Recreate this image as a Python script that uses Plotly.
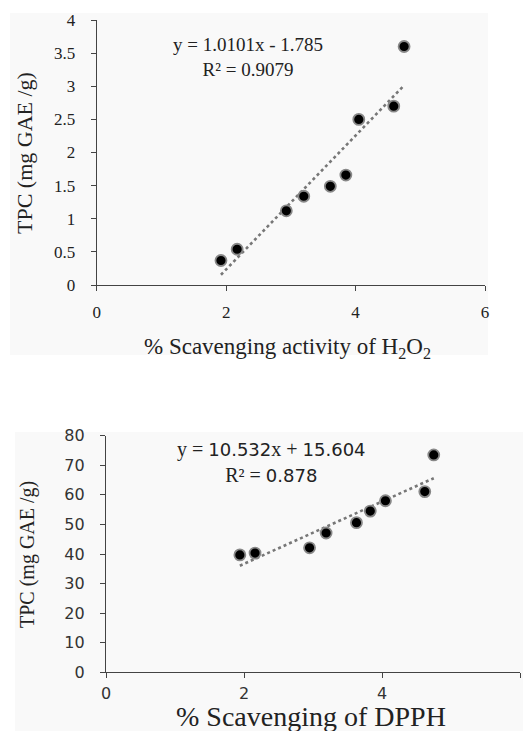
import plotly.graph_objects as go

W, H = 523, 731

# Top chart data: H2O2
h2o2_x = [1.92, 2.17, 2.93, 3.20, 3.61, 3.85, 4.05, 4.59, 4.75]
h2o2_y = [0.37, 0.54, 1.12, 1.34, 1.49, 1.66, 2.50, 2.70, 3.60]
h2o2_slope, h2o2_icpt = 1.0101, -1.785

# Bottom chart data: DPPH
dpph_x = [1.94, 2.16, 2.95, 3.19, 3.63, 3.83, 4.05, 4.62, 4.75]
dpph_y = [39.7, 40.3, 42.1, 47.1, 50.6, 54.5, 58.0, 61.1, 73.5]
dpph_slope, dpph_icpt = 10.532, 15.604

x_ticks = [0, 2, 4, 6]
top_y_ticks = [0, 0.5, 1, 1.5, 2, 2.5, 3, 3.5, 4]
top_y_labels = ["0", "0.5", "1", "1.5", "2", "2.5", "3", "3.5", "4"]
bot_y_ticks = [0, 10, 20, 30, 40, 50, 60, 70, 80]


def px(x):
    return x / W


def py(y):
    return 1 - y / H


fig = go.Figure()

marker = dict(color="black", size=11, line=dict(color="#888888", width=1.8))
trend_line = dict(color="#777777", width=2.6, dash="dot")

# top
tx = [min(h2o2_x), max(h2o2_x)]
fig.add_trace(go.Scatter(x=tx, y=[h2o2_slope * v + h2o2_icpt for v in tx], mode="lines",
                         line=trend_line, xaxis="x", yaxis="y", hoverinfo="skip"))
fig.add_trace(go.Scatter(x=h2o2_x, y=h2o2_y, mode="markers", marker=marker,
                         xaxis="x", yaxis="y"))
# bottom
bx = [min(dpph_x), max(dpph_x)]
fig.add_trace(go.Scatter(x=bx, y=[dpph_slope * v + dpph_icpt for v in bx], mode="lines",
                         line=trend_line, xaxis="x2", yaxis="y2", hoverinfo="skip"))
fig.add_trace(go.Scatter(x=dpph_x, y=dpph_y, mode="markers", marker=marker,
                         xaxis="x2", yaxis="y2"))

serif = "Liberation Serif"
sans = "DejaVu Sans"
axis_common = dict(showgrid=False, zeroline=False, showline=True, linecolor="#444444",
                   linewidth=1.3, ticks="outside", ticklen=5, tickcolor="#444444",
                   tickwidth=1.3, automargin=False)

fig.update_layout(
    width=W, height=H,
    margin=dict(l=0, r=0, t=0, b=0),
    font=dict(family=serif, color="#222"),
    paper_bgcolor="white", plot_bgcolor="rgba(0,0,0,0)",
    showlegend=False,
    xaxis=dict(domain=[px(96.7), px(485)], range=[0, 6], tickvals=x_ticks,
               anchor="y", tickfont=dict(family=serif, size=17, color="#222"),
               ticklabelstandoff=6, **axis_common),
    yaxis=dict(domain=[py(285), py(20)], range=[0, 4], tickvals=top_y_ticks,
               ticktext=top_y_labels, anchor="x",
               tickfont=dict(family=serif, size=17, color="#222"),
               ticklabelstandoff=12, **axis_common),
    xaxis2=dict(domain=[px(106), px(520)], range=[0, 6], tickvals=x_ticks,
                anchor="y2", tickfont=dict(family=sans, size=16, color="#333"),
                ticklabelstandoff=1, **axis_common),
    yaxis2=dict(domain=[py(672.3), py(435.7)], range=[0, 80], tickvals=bot_y_ticks,
                anchor="x2", tickfont=dict(family=sans, size=16, color="#333"),
                ticklabelstandoff=12, **axis_common),
    shapes=[
        dict(type="rect", xref="paper", yref="paper", x0=px(10), x1=px(488),
             y0=py(355), y1=py(13), fillcolor="#f9f9f9", line=dict(width=0), layer="below"),
        dict(type="rect", xref="paper", yref="paper", x0=px(15), x1=1,
             y0=0, y1=py(432), fillcolor="#f9f9f9", line=dict(width=0), layer="below"),
    ],
    annotations=[
        dict(xref="paper", yref="paper", x=px(248), y=py(57), showarrow=False,
             xanchor="center", yanchor="middle",
             text="y = 1.0101x - 1.785<br>R² = 0.9079", align="center",
             font=dict(family=serif, size=19, color="#222")),
        dict(xref="paper", yref="paper", x=px(287), y=py(348), showarrow=False,
             xanchor="center", yanchor="middle",
             text="% Scavenging activity of H<sub>2</sub>O<sub>2</sub>",
             font=dict(family=serif, size=23, color="#222")),
        dict(xref="paper", yref="paper", x=px(24), y=py(153), showarrow=False,
             xanchor="center", yanchor="middle",
             text="TPC (mg GAE /g)", textangle=-90,
             font=dict(family=serif, size=22, color="#222")),
        dict(xref="paper", yref="paper", x=px(271), y=py(462), showarrow=False,
             xanchor="center", yanchor="middle",
             text=("y = <span style='font-family:DejaVu Sans;font-size:18px'>10.532</span>x + "
                   "<span style='font-family:DejaVu Sans;font-size:18px'>15.604</span><br>"
                   "R² = <span style='font-family:DejaVu Sans;font-size:18px'>0.878</span>"),
             align="center",
             font=dict(family=serif, size=20, color="#222")),
        dict(xref="paper", yref="paper", x=px(311), y=py(716), showarrow=False,
             xanchor="center", yanchor="middle",
             text="% Scavenging of DPPH",
             font=dict(family=serif, size=28, color="#222")),
        dict(xref="paper", yref="paper", x=px(27), y=py(555), showarrow=False,
             xanchor="center", yanchor="middle",
             text="TPC (mg GAE /g)", textangle=-90,
             font=dict(family=serif, size=20, color="#222")),
    ],
)

fig.write_html("out.html", config={"displayModeBar": False},
               post_script="document.body.style.margin='0';document.body.style.overflow='hidden';")
